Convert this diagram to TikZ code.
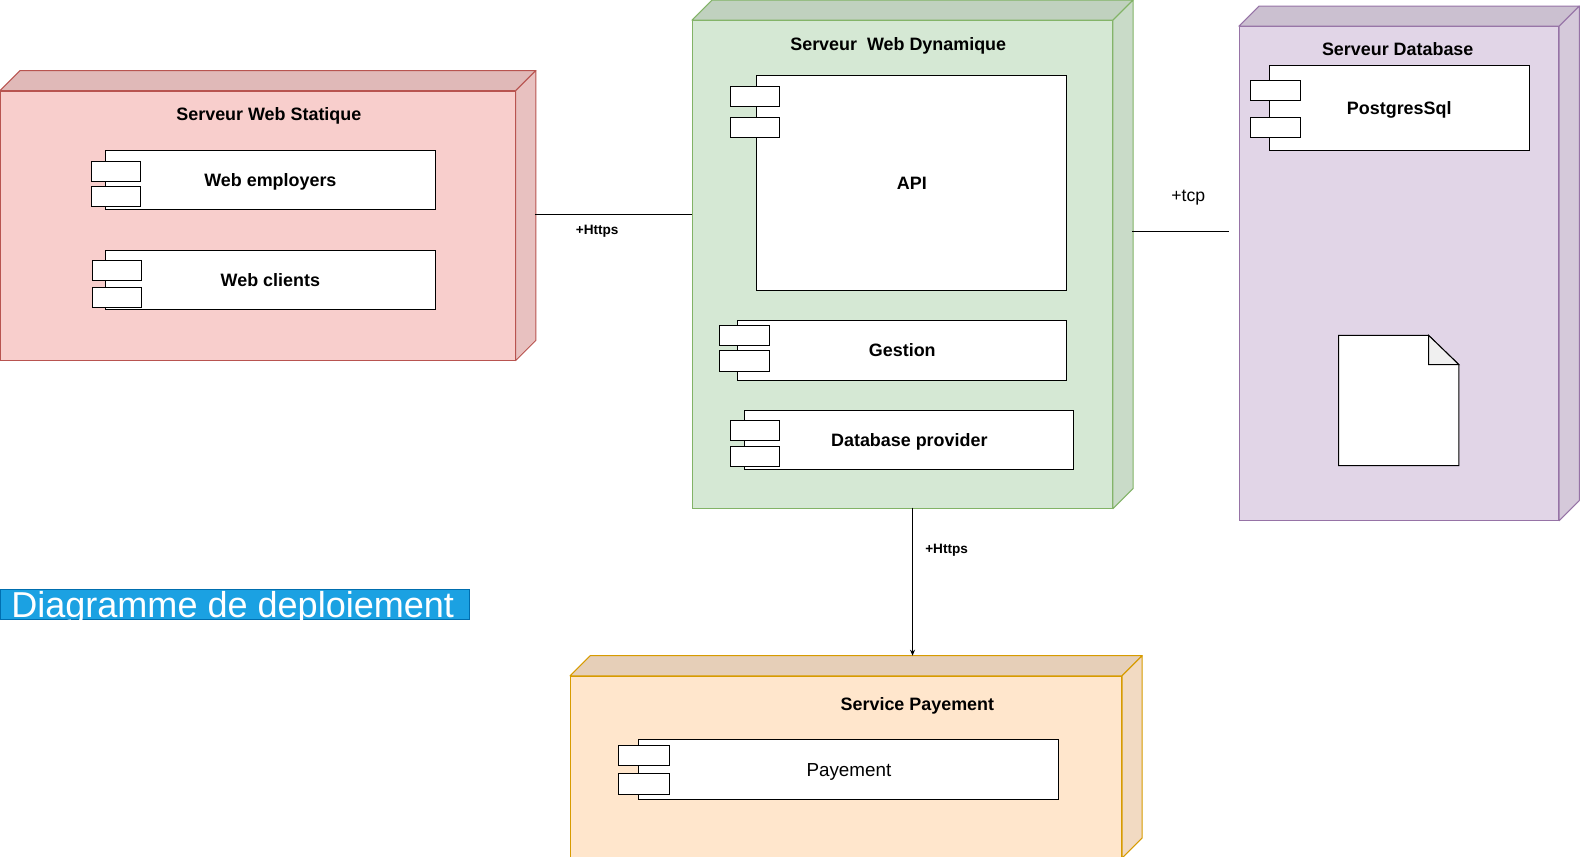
\documentclass[tikz,border=0pt]{standalone}
\usepackage{fontspec}
\setmainfont{Liberation Sans}
\usetikzlibrary{arrows.meta,calc}
\definecolor{redF}{HTML}{F8CECC}\definecolor{redT}{HTML}{E0B9B8}\definecolor{redS}{HTML}{E8C1C0}\definecolor{redL}{HTML}{B85450}
\definecolor{greenF}{HTML}{D5E8D4}\definecolor{greenT}{HTML}{C0D1BF}\definecolor{greenS}{HTML}{C9DBC8}\definecolor{greenL}{HTML}{82B366}
\definecolor{purpleF}{HTML}{E1D5E7}\definecolor{purpleT}{HTML}{CBC0D0}\definecolor{purpleS}{HTML}{D5C9DA}\definecolor{purpleL}{HTML}{9673A6}
\definecolor{orangeF}{HTML}{FFE6CC}\definecolor{orangeT}{HTML}{E6CFB8}\definecolor{orangeS}{HTML}{F2DAC2}\definecolor{orangeL}{HTML}{D79B00}
\definecolor{titleF}{HTML}{1BA1E2}\definecolor{titleL}{HTML}{006EAF}
\definecolor{foldF}{HTML}{F0F0F0}
\newcommand\depnode[6]{%
  \node[draw=#6L, fill=#6F, line width=1pt, inner sep=0pt, minimum width=#4, minimum height=#5, anchor=north west] (#1) at (#2,#3) {};
  \filldraw[draw=#6L, fill=#6T, line width=1pt, line join=round] (#1.north west) -- ++(20,-20) -- ($(#1.north east)+(20,-20)$) -- (#1.north east) -- cycle;
  \filldraw[draw=#6L, fill=#6S, line width=1pt, line join=round] (#1.north east) -- ($(#1.north east)+(20,-20)$) -- ($(#1.south east)+(20,-20)$) -- (#1.south east) -- cycle;
}
\tikzset{
  comp/.style={draw, fill=white, line width=1pt, inner sep=0pt, anchor=north west, font=\bfseries\fontsize{17.8}{20}\selectfont, text height=12.8pt, text depth=0pt},
  tab/.style={draw, fill=white, line width=1pt, inner sep=0pt, minimum width=49, minimum height=20, anchor=north west},
  ttl/.style={font=\bfseries\fontsize{17.8}{20}\selectfont, inner sep=0pt, text height=12.8pt, text depth=0pt},
  lbl/.style={font=\bfseries\fontsize{13.5}{16}\selectfont, inner sep=0pt, text height=9.7pt, text depth=0pt},
  conn/.style={line width=1pt},
}
\begin{document}
\begin{tikzpicture}[x=1pt,y=-1pt,scale=1.007,transform shape]
\useasboundingbox (0,0) rectangle (1570,851);
% Serveur Web Statique
\depnode{red}{0}{90}{511}{267}{red}
\node[ttl] (redT) at (267,113) {Serveur Web Statique};
\node[comp, minimum width=328, minimum height=59] (we) at (104,149) {Web employers};
\node[tab] (we1) at (90,160) {};
\node[tab] (we2) at (90,185) {};
\node[comp, minimum width=328, minimum height=59] (wc) at (104,248) {Web clients};
\node[tab] (wc1) at (91,258) {};
\node[tab] (wc2) at (91,285) {};
% Serveur Web Dynamique
\depnode{green}{687}{20}{417}{484}{green}
\node[ttl] (greenT) at (892,44) {Serveur\ \ Web Dynamique};
\node[comp, minimum width=308, minimum height=214] (api) at (751,74) {API};
\node[tab] (api1) at (725,85) {};
\node[tab] (api2) at (725,116) {};
\node[comp, minimum width=327, minimum height=59] (ges) at (732,318) {Gestion};
\node[tab, minimum width=50] (ges1) at (714,323) {};
\node[tab, minimum width=50] (ges2) at (714,348) {};
\node[comp, minimum width=327, minimum height=59] (dbp) at (739,407) {Database provider};
\node[tab] (dbp1) at (725,417) {};
\node[tab] (dbp2) at (725,443) {};
% Serveur Database
\depnode{purple}{1230}{26}{317}{490}{purple}
\node[ttl] (purpleT) at (1388,49) {Serveur Database};
\node[comp, minimum width=258, minimum height=84] (pg) at (1260,65) {PostgresSql};
\node[tab, minimum width=50] (pg1) at (1241,79) {};
\node[tab, minimum width=50] (pg2) at (1241,116) {};
\node[inner sep=0pt, minimum width=119, minimum height=129, anchor=north west] (doc) at (1329,333) {};
\filldraw[fill=white, draw=black, line width=1pt, line join=miter] (doc.north west) -- ($(doc.north east)+(-30,0)$) -- ($(doc.north east)+(0,29)$) -- (doc.south east) -- (doc.south west) -- cycle;
\filldraw[fill=foldF, draw=black, line width=1pt] ($(doc.north east)+(-30,0)$) -- ($(doc.north east)+(-30,29)$) -- ($(doc.north east)+(0,29)$) -- cycle;
% Service Payement
\depnode{orange}{566}{671}{547}{180}{orange}
\node[ttl] (orangeT) at (911,699) {Service Payement};
\node[comp, minimum width=417, minimum height=59, font=\fontsize{18.7}{21}\selectfont, text height=13.5pt] (pay) at (634,734) {Payement};
\node[tab, minimum width=50] (pay1) at (614,740) {};
\node[tab, minimum width=50] (pay2) at (614,768) {};
% connectors
\coordinate (c1a) at (531,213);
\coordinate (c2a) at (1124,230);
\coordinate (c2b) at (1220,230);
\coordinate (c3a) at (906,504);
\coordinate (c3b) at (906,651);
\draw[conn] (c1a) -- (green.west |- c1a);
\draw[conn] (c2a) -- (c2b);
\draw[conn, -{Stealth[length=6pt,width=5pt]}] (c3a) -- (c3b);
\node[lbl] (l1) at (593,228) {+Https};
\node[font=\fontsize{17.5}{20}\selectfont, inner sep=0pt, text height=12.6pt, text depth=0pt] (l2) at (1180,194) {+tcp};
\node[lbl] (l3) at (940,545) {+Https};
% title
\node[fill=titleF, draw=titleL, line width=1pt, inner sep=0pt, minimum width=466, minimum height=30, anchor=north west] (ttlbox) at (0,585) {};
\begin{scope}
\clip (ttlbox.south west) rectangle (ttlbox.north east);
\node[text=white, font=\fontsize{35.8}{40}\selectfont, inner sep=0pt, anchor=base west] (ttltext) at (11,613.5) {Diagramme de deploiement};
\end{scope}
\end{tikzpicture}
\end{document}
